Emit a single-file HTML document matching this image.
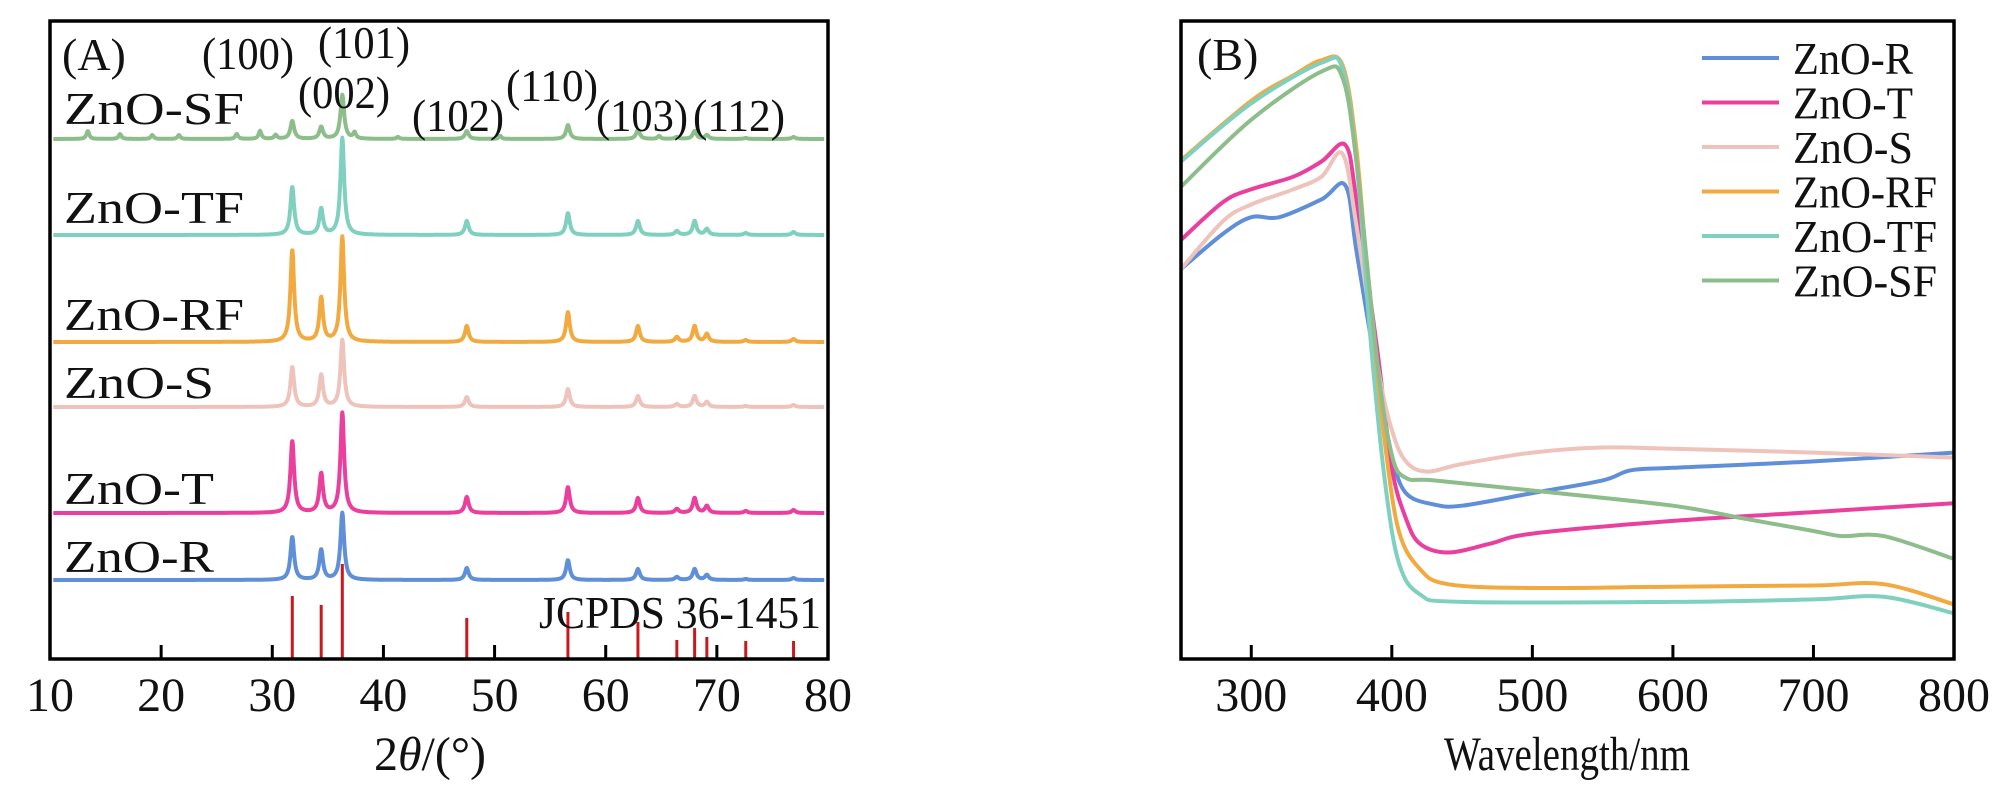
<!DOCTYPE html>
<html><head><meta charset="utf-8"><style>
html,body{margin:0;padding:0;background:#fff;}
svg{display:block;}
svg text{font-family:"Liberation Serif","Times New Roman",serif;}
</style></head><body>
<svg id="fig" width="2011" height="787" viewBox="0 0 2011 787" xmlns="http://www.w3.org/2000/svg" font-family="Liberation Serif, serif">
<g id="pa"></g>
<g id="pb"></g>
</svg>
<script>
// ---------- Panel A data (XRD) ----------
const xrdTicks = [10,20,30,40,50,60,70,80];
const zPeaks = [31.8,34.4,36.3,47.5,56.6,62.9,66.4,68.0,69.1,72.6,76.9];
const xrdNames = ["ZnO-SF","ZnO-TF","ZnO-RF","ZnO-S","ZnO-T","ZnO-R"];
const xrdColors = ["#8dbd8b","#80d0bf","#f2aa40","#eec3bb","#ea3f9d","#5f8fd8"];
const xrdOffsets = [139,235,342,407,513,580];
const hSF = [18,12,44,8,14,9,2,8,4,1,2];
const hTF = [48,26,97,14,22,14,4,14,6,2,3];
const hRF = [92,44,105,16,30,16,5,16,8,2,3];
const hS  = [40,32,67,10,18,11,3,11,5,1,2];
const hT  = [72,39,100,16,26,15,4,15,7,2,3];
const hR  = [43,30,67,12,20,11,3,11,5,1,2];
const xrdHeights = [hSF,hTF,hRF,hS,hT,hR];
const sfExtraPos = [13.4,16.3,19.2,21.6,26.8,28.9,30.3,37.4,41.3,50.5,64.8];
const sfExtraH   = [8,5,4,4,5,8,4,6,2,3,3];
const stickPos = [31.8,34.4,36.3,47.5,56.6,62.9,66.4,68.0,69.1,72.6,76.9];
const stickH   = [63,54,95,41,47,37,19,31,22,18,18];
const hklLabels = ["(100)","(101)","(002)","(102)","(110)","(103)","(112)"];

// ---------- Panel B data (UV-vis) ----------
const wlTicks = [300,400,500,600,700,800];
const wlR  = [250,280,300,320,350,367,375,390,400,410,430,450,500,550,570,600,700,800];
const vR   = [60.2,65.8,68.4,68.4,71.2,73.4,62.8,42.8,30.8,24.8,23,22.8,24.8,26.8,28.4,28.8,29.8,31.2];
const wlT  = [250,280,300,330,350,367,375,390,400,410,420,440,470,500,600,700,800];
const vT   = [64.8,70.8,72.8,74.8,77.2,79.8,70.8,46.8,28.8,20.8,16.8,15.4,16.8,18.4,20.4,21.8,23.2];
const wlS  = [250,280,300,330,350,365,375,390,400,410,425,450,500,550,600,700,800];
const vS   = [60.2,67.8,70.4,72.8,74.8,78.4,66.8,44.8,34.8,29.8,28.2,29.4,31.2,32,31.8,31.2,30.4];
const wlRF = [250,300,330,350,365,375,385,395,405,420,440,500,600,700,750,800];
const vRF  = [77.4,86.8,90.8,93.2,92.4,78.8,52.8,32.8,18.8,12.8,10.4,9.8,10,10.2,10.4,7.2];
const wlTF = [250,300,350,365,375,385,395,405,420,450,600,700,750,800];
const vTF  = [77.2,86.4,92.8,91.8,76.8,48.8,26.8,13.8,8.8,7.6,7.6,8,8.4,5.8];
const wlSF = [250,300,350,365,375,390,400,410,430,500,600,650,700,720,750,800];
const vSF  = [73.2,83.8,91.4,90.4,76.8,44.8,30.8,27.2,26.8,25.2,22.8,20.8,18.8,18,18,14.4];
const uvNames = ["ZnO-R","ZnO-T","ZnO-S","ZnO-RF","ZnO-TF","ZnO-SF"];
const uvColors = ["#5f8fd8","#ea3f9d","#eec3bb","#f2aa40","#80d0bf","#8dbd8b"];
const uvX = [wlR,wlT,wlS,wlRF,wlTF,wlSF];
const uvY = [vR,vT,vS,vRF,vTF,vSF];

const NS="http://www.w3.org/2000/svg";
function mk(parent,tag,attrs,text){const e=document.createElementNS(NS,tag);for(const k in attrs)e.setAttribute(k,attrs[k]);if(text!==undefined)e.textContent=text;parent.appendChild(e);return e;}
const FONT="Liberation Serif, Times New Roman, serif";

// ---------- Panel A ----------
const pa=document.getElementById('pa');
const A={l:50,r:828,t:21,b:659};
const ax=v=>A.l+(v-10)/(80-10)*(A.r-A.l);
function prof(x,pos,h,w){let s=0;for(let i=0;i<pos.length;i++){const d=(x-pos[i])/w;s+=h[i]/(1+d*d);}return s;}
xrdNames.forEach((nm,si)=>{
  let d="";
  for(let x=10.3;x<=79.7;x+=0.04){
    let y=xrdOffsets[si]-prof(x,zPeaks,xrdHeights[si],0.2);
    if(si===0)y-=prof(x,sfExtraPos,sfExtraH,0.15);
    d+=(d?"L":"M")+ax(x).toFixed(1)+","+y.toFixed(1);
  }
  const p=mk(pa,'path',{d:d,fill:'none',stroke:xrdColors[si],'stroke-width':4,'stroke-linejoin':'round'});
  
  
});
const labY=[124,223,330,398,504,572];
xrdNames.forEach((nm,si)=>{
  const t=mk(pa,'text',{x:64,y:labY[si],'font-size':46,'font-family':FONT,fill:'#111',textLength:nm.length*30,lengthAdjust:'spacingAndGlyphs'},nm);
  
  
});
stickPos.forEach((p,i)=>{
  const l=mk(pa,'line',{x1:ax(p),x2:ax(p),y1:A.b,y2:A.b-stickH[i],stroke:'#c8191e','stroke-width':3});
  
  
});
const hklPos=[[202,69],[318,58],[298,108],[412,131],[506,101],[596,131],[693,131]];
hklLabels.forEach((s,i)=>{
  const t=mk(pa,'text',{x:hklPos[i][0],y:hklPos[i][1],'font-size':46,'font-family':FONT,fill:'#111',textLength:92,lengthAdjust:'spacingAndGlyphs'},s);
  
  
});
{const t=mk(pa,'text',{x:539,y:628,'font-size':46,'font-family':FONT,fill:'#111',textLength:282,lengthAdjust:'spacingAndGlyphs'},'JCPDS 36-1451');

}
{const t=mk(pa,'text',{x:62,y:70,'font-size':46,'font-family':FONT,fill:'#111'},'(A)');

}
xrdTicks.forEach(v=>{
  const x=ax(v);
  if(v>10&&v<80){const l=mk(pa,'line',{x1:x,x2:x,y1:A.b,y2:A.b-14,stroke:'#000','stroke-width':3});
  
  }
  const t=mk(pa,'text',{x:x,y:711,'font-size':48,'font-family':FONT,'text-anchor':'middle',fill:'#111'},v);
  
  
});
{const r=mk(pa,'rect',{x:A.l,y:A.t,width:A.r-A.l,height:A.b-A.t,fill:'none',stroke:'#000','stroke-width':3.5});

}
{const t=mk(pa,'text',{x:430,y:770,'font-size':48,'font-family':FONT,'text-anchor':'middle',fill:'#111'});


t.innerHTML='2<tspan font-style="italic">θ</tspan>/(°)';}

// ---------- Panel B ----------
const pb=document.getElementById('pb');
const B={l:1181,r:1954,t:21,b:659};
const bx=v=>B.l+(v-250)/(800-250)*(B.r-B.l);
const by=v=>650-(v/99.4)*629;
function smooth(xs,ys){
  const P=xs.map((x,i)=>[bx(x),by(ys[i])]);
  let d="M"+P[0][0].toFixed(1)+","+P[0][1].toFixed(1);
  for(let i=0;i<P.length-1;i++){
    const p0=P[Math.max(0,i-1)],p1=P[i],p2=P[i+1],p3=P[Math.min(P.length-1,i+2)];
    const c1=[p1[0]+(p2[0]-p0[0])/6,p1[1]+(p2[1]-p0[1])/6];
    const c2=[p2[0]-(p3[0]-p1[0])/6,p2[1]-(p3[1]-p1[1])/6];
    d+="C"+c1[0].toFixed(1)+","+c1[1].toFixed(1)+" "+c2[0].toFixed(1)+","+c2[1].toFixed(1)+" "+p2[0].toFixed(1)+","+p2[1].toFixed(1);
  }
  return d;
}
uvNames.forEach((nm,i)=>{
  const p=mk(pb,'path',{d:smooth(uvX[i],uvY[i]),fill:'none',stroke:uvColors[i],'stroke-width':4,'stroke-linejoin':'round'});
  
  
});
uvNames.forEach((nm,i)=>{
  const y=58+i*44.5;
  const g=mk(pb,'g',{});
  
  
  mk(g,'line',{x1:1702,x2:1779,y1:y,y2:y,stroke:uvColors[i],'stroke-width':4});
  mk(g,'text',{x:1793,y:y+16,'font-size':46,'font-family':FONT,fill:'#111',textLength:nm.length*24,lengthAdjust:'spacingAndGlyphs'},nm);
});
wlTicks.forEach(v=>{
  const x=bx(v);
  if(v<800){const l=mk(pb,'line',{x1:x,x2:x,y1:B.b,y2:B.b-14,stroke:'#000','stroke-width':3});
  
  }
  const t=mk(pb,'text',{x:x,y:711,'font-size':48,'font-family':FONT,'text-anchor':'middle',fill:'#111'},v);
  
  
});
{const r=mk(pb,'rect',{x:B.l,y:B.t,width:B.r-B.l,height:B.b-B.t,fill:'none',stroke:'#000','stroke-width':3.5});

}
{const t=mk(pb,'text',{x:1197,y:70,'font-size':46,'font-family':FONT,fill:'#111'},'(B)');

}
{const t=mk(pb,'text',{x:1567,y:770,'font-size':48,'font-family':FONT,'text-anchor':'middle',fill:'#111',textLength:246,lengthAdjust:'spacingAndGlyphs'},'Wavelength/nm');

}
</script>
</body></html>
